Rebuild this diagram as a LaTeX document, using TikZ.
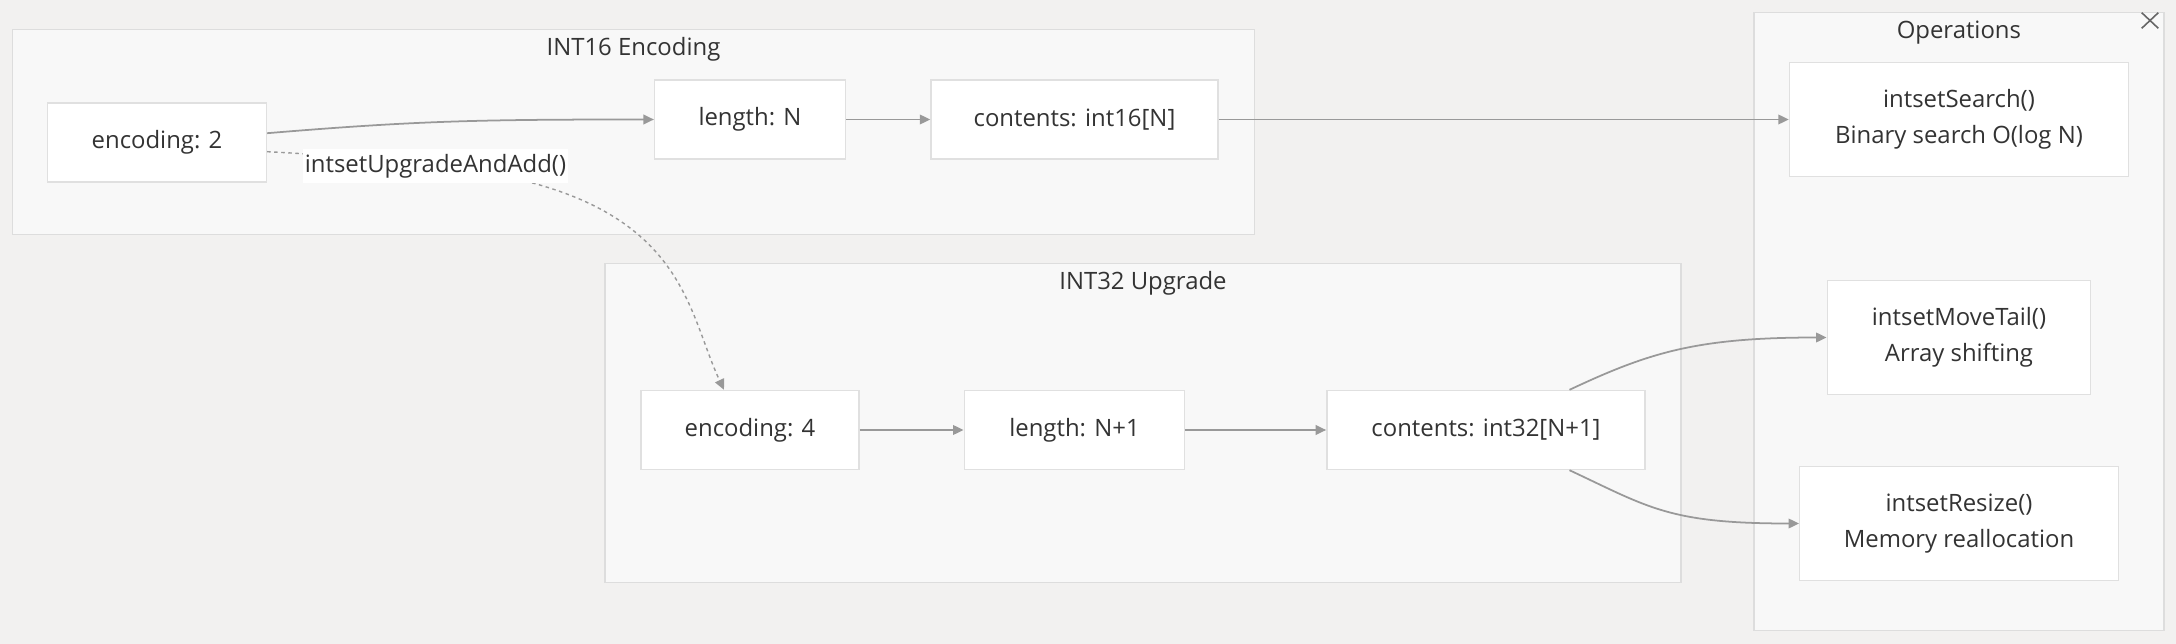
\documentclass[tikz,border=0pt]{standalone}
\usepackage{fontspec}
\setmainfont{Open Sans}
\usepackage{tikz}
\usetikzlibrary{arrows.meta}
\usetikzlibrary{positioning, calc}

\definecolor{bgc}{HTML}{F2F1F0}
\definecolor{grp}{HTML}{F8F8F8}
\definecolor{grpline}{HTML}{DDDDDD}
\definecolor{boxline}{HTML}{E0E0E0}
\definecolor{wire}{HTML}{999999}
\definecolor{ink}{HTML}{333333}
\definecolor{xmark}{HTML}{666666}

\begin{document}
\begin{tikzpicture}[
    block/.style={draw=boxline, fill=white, line width=.8pt, text=ink, font=\fontsize{13.6}{20.8}\selectfont, inner sep=0pt, minimum height=1.58cm, align=center},
    tall/.style={block, minimum height=2.27cm},
    group/.style={draw=grpline, fill=grp, line width=.8pt, inner sep=0pt},
    head/.style={text=ink, font=\fontsize{13.6}{20.8}\selectfont},
    link/.style={wire, line width=1pt, -{Triangle[length=6pt, width=5.5pt]}},
    dots/.style={link, line width=.8pt, dash pattern=on 2pt off 2pt},
    lbl/.style={fill=white, text=ink, font=\fontsize{13.6}{20.8}\selectfont, inner sep=1pt, minimum height=.68cm}
]
    \fill[bgc] (0,0) rectangle (43.52,-12.88);

    % Groups:
    \draw (12.67,-2.636) node[group, minimum width=24.84cm, minimum height=4.1cm] (g16) {};
    \draw (22.86,-8.46) node[group, minimum width=21.52cm, minimum height=6.388cm] (g32) {};
    \draw (39.178,-6.427) node[group, minimum width=8.196cm, minimum height=12.362cm] (gops) {};
    \draw (g16.north) ++(0,-.42) node[head] (t16) {INT16 Encoding};
    \draw (g32.north) ++(0,-.42) node[head] (t32) {INT32 Upgrade};
    \draw (gops.north) ++(0,-.42) node[head] (tops) {Operations};
    \draw[xmark, line width=.9pt] (42.834,-.254) -- (43.166,-.566) (42.834,-.566) -- (43.166,-.254);

    \draw (3.14,-2.854) node[block, minimum width=4.38cm] (enc2) {encoding: 2};
    \draw (enc2) ++(11.86,.464) node[block, minimum width=3.816cm] (lenN) {length: N};
    \draw (lenN) ++(6.49,0) node[block, minimum width=5.74cm] (c16) {contents: int16[N]};

    \draw (lenN) ++(0,-6.21) node[block, minimum width=4.356cm] (enc4) {encoding: 4};
    \draw (enc4) ++(6.49,0) node[block, minimum width=4.41cm] (lenN1) {length: N+1};
    \draw (lenN1) ++(8.23,0) node[block, minimum width=6.366cm] (c32) {contents: int32[N+1]};

    \draw (c16) ++(17.69,0) node[tall, minimum width=6.78cm] (search) {intsetSearch()\\Binary search O(log N)};
    \draw (search) ++(0,-4.36) node[tall, minimum width=5.27cm] (move) {intsetMoveTail()\\Array shifting};
    \draw (move) ++(0,-3.72) node[tall, minimum width=6.37cm] (resize) {intsetResize()\\Memory reallocation};

    % Edges:
    \draw[link] ($(enc2.east)+(0,.19)$) .. controls +(3,.25) and +(-3.5,0) .. (lenN.west);
    \draw[link] (lenN) -- (c16);
    \draw[link] (c16) -- (search);
    \draw[link] (enc4) -- (lenN1);
    \draw[link] (lenN1) -- (c32);
    \draw[link] ($(c32.north)+(1.67,0)$) .. controls +(1.6,.75) and +(-2.6,0) .. (move.west);
    \draw[link] ($(c32.south)+(1.67,0)$) .. controls +(1.6,-.75) and +(-2.6,0) .. (resize.west);

    \draw[dots] ($(enc2.east)+(0,-.18)$) .. controls +(1.2,-.06) and +(-1.3,.14) .. (8.71,-3.32) node[lbl] (upg) {intsetUpgradeAndAdd()}
        .. controls +(5,-.5) and +(-.8,1.7) .. ($(enc4.north)+(-.52,0)$);

\end{tikzpicture}
\end{document}
